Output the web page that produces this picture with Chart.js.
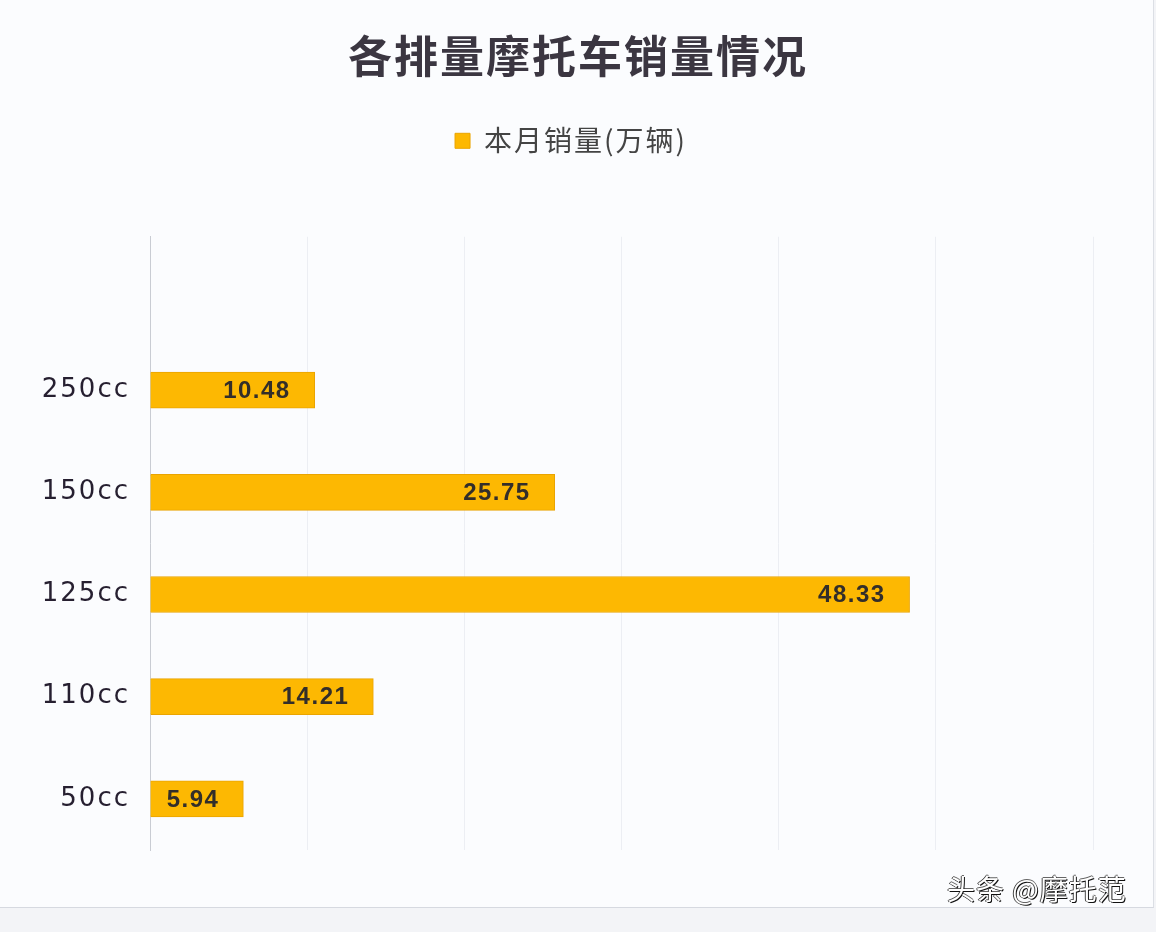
<!DOCTYPE html>
<html>
<head>
<meta charset="utf-8">
<script src="https://cdn.jsdelivr.net/npm/chart.js@4.4.1/dist/chart.umd.min.js"></script>
<style>
  html,body{margin:0;padding:0;background:#f3f4f7;}
  #wrap{position:relative;width:1153px;height:907px;background:#fbfcfe;border-right:1px solid #dcdfe5;border-bottom:1px solid #d6d9e0;}
  #c{position:absolute;left:0;top:0;}
  #mark{position:absolute;left:947px;top:868px;font:28px "Noto Sans CJK SC";color:#fff;
    text-shadow:1px 1px 0 #111,-1px 0 0 #444,0 -1px 0 #666;letter-spacing:1px;}
</style>
</head>
<body>
<div id="wrap">
  <canvas id="c" width="1156" height="932"></canvas>
  <div id="mark">头条 @摩托范</div>
</div>
<script>
const categories = ['', '250cc', '150cc', '125cc', '110cc', '50cc'];
const sales = [null, 10.48, 25.75, 48.33, 14.21, 5.94];
const seriesName = '本月销量(万辆)';
const titleText = '各排量摩托车销量情况';

const spacing = { id:'spacing', beforeDraw(chart){ chart.ctx.letterSpacing = '2px'; } };

// leave room under the legend, and nudge it a bit left like the original
const legendGap = {
    id:'legendGap',
    beforeInit(chart){
        const fit = chart.legend.fit;
        chart.legend.fit = function(){ fit.bind(chart.legend)(); this.height = 120; };
    },
    afterLayout(chart){ chart.legend.left -= 15; chart.legend.right -= 15; }
};

const valueLabels = { id:'valueLabels', afterDatasetsDraw(chart){
    const ctx = chart.ctx; const meta = chart.getDatasetMeta(0);
    ctx.save();
    ctx.letterSpacing = '1.5px';
    ctx.font = 'bold 24px "Liberation Sans", Arial, sans-serif';
    ctx.fillStyle = '#332e2a';
    ctx.textAlign = 'right'; ctx.textBaseline = 'middle';
    meta.data.forEach((bar,i)=>{
        if(sales[i]==null) return;
        ctx.fillText(sales[i].toFixed(2), bar.x - 24, bar.y + 1);
    });
    ctx.restore();
}};

new Chart(document.getElementById('c'), {
    type:'bar',
    data:{ labels: categories, datasets:[{ label: seriesName, data: sales,
        backgroundColor:'#fdb802', borderColor:'#eaa400', borderWidth:1, barThickness:36 }] },
    options:{
        indexAxis:'y', responsive:false, animation:false,
        layout:{ padding:{ left:0, right:0, top:0, bottom:82 } },
        scales:{
            x:{ min:0, max:60, ticks:{ display:false, stepSize:10 },
                grid:{ color:'#eceef3', drawTicks:false }, border:{ display:false },
                afterFit(s){ s.height = 0; } },
            y:{ grid:{ display:false }, border:{ color:'#c9ccd3' },
                ticks:{ color:'#261f30', padding:12, font:{ family:'"DejaVu Sans"', size:26 } },
                afterFit(s){ s.width = 150; } },
            rightPad:{ type:'linear', position:'right', display:true,
                ticks:{ display:false }, grid:{ display:false }, border:{ display:false },
                afterFit(s){ s.width = 63; } }
        },
        plugins:{
            title:{ display:true, text:titleText, color:'#3b3641',
                font:{ family:'"Noto Sans CJK SC"', size:44, weight:'bold' }, padding:{ top:30, bottom:34 } },
            legend:{ labels:{ boxWidth:15, boxHeight:15, color:'#444', padding:10,
                font:{ family:'"Noto Sans CJK SC"', size:28 } } },
            tooltip:{ enabled:false }
        }
    },
    plugins:[spacing, legendGap, valueLabels]
});
</script>
</body>
</html>
